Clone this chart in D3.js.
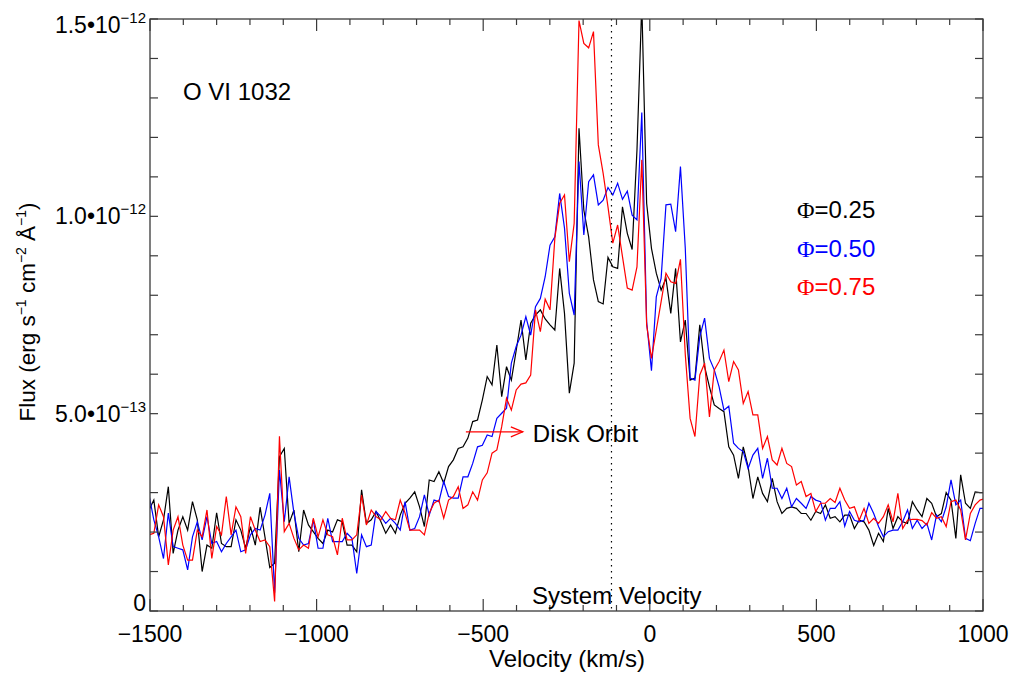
<!DOCTYPE html>
<html>
<head>
<meta charset="utf-8">
<script src="https://cdn.jsdelivr.net/npm/d3@7/dist/d3.min.js"></script>
<style>
  html, body { margin: 0; padding: 0; background: #fff; }
  svg { display: block; }
  text { font-family: "Liberation Sans", Arial, Helvetica, sans-serif; fill: #000; }
</style>
</head>
<body>
<svg id="chart" width="1012" height="673"></svg>
<script>
// Velocity grid (km/s)
const velocity = [
-1503,-1488.5,-1474,-1459.5,-1445,-1430.5,-1416,-1401.5,-1387,-1372.5,
-1358,-1343.5,-1329,-1314.5,-1300,-1285.5,-1271,-1256.5,-1242,-1227.5,
-1213,-1198.5,-1184,-1169.5,-1155,-1140.5,-1126,-1111.5,-1097,-1082.5,
-1068,-1053.5,-1039,-1024.5,-1010,-995.5,-981,-966.5,-952,-937.5,
-923,-908.5,-894,-879.5,-865,-850.5,-836,-821.5,-807,-792.5,
-778,-763.5,-749,-734.5,-720,-705.5,-691,-676.5,-662,-647.5,
-633,-618.5,-604,-589.5,-575,-560.5,-546,-531.5,-517,-502.5,
-488,-473.5,-459,-444.5,-430,-415.5,-401,-386.5,-372,-357.5,
-343,-328.5,-314,-299.5,-285,-270.5,-256,-241.5,-227,-212.5,
-198,-183.5,-169,-154.5,-140,-125.5,-111,-96.5,-82,-67.5,
-53,-38.5,-24,-9.5,5,19.5,34,48.5,63,77.5,
92,106.5,121,135.5,150,164.5,179,193.5,208,222.5,
237,251.5,266,280.5,295,309.5,324,338.5,353,367.5,
382,396.5,411,425.5,440,454.5,469,483.5,498,512.5,
527,541.5,556,570.5,585,599.5,614,628.5,643,657.5,
672,686.5,701,715.5,730,744.5,759,773.5,788,802.5,
817,831.5,846,860.5,875,889.5,904,918.5,933,947.5,
962,976.5,991,1005.5
];

// Flux in units of 1e-13 erg s^-1 cm^-2 A^-1
const fluxPhi025 = [
2.56,2.81,1.88,2.31,3.15,1.46,2.05,2.39,2.05,2.77,
2.31,1.00,1.67,1.59,2.49,1.71,1.63,1.63,2.31,2.05,
1.59,2.14,1.67,2.63,1.88,1.10,1.21,3.91,4.12,2.22,
2.56,1.50,2.56,2.18,2.01,1.84,1.71,2.05,2.00,2.31,
2.26,1.67,1.67,1.50,3.07,2.22,2.31,2.52,2.26,1.97,
2.18,1.97,2.43,2.73,2.86,3.02,2.64,2.14,3.32,3.28,
3.53,3.24,3.66,3.83,4.12,4.16,4.38,4.80,4.84,5.35,
5.94,5.73,6.74,5.43,6.19,5.85,6.60,7.37,6.36,7.29,
7.50,7.63,7.40,7.25,7.12,8.68,7.54,5.52,6.28,12.23,
10.16,9.48,8.39,7.84,7.78,8.96,8.72,8.68,10.24,9.57,
9.16,11.68,15.40,10.33,9.19,8.56,8.13,8.43,7.54,8.68,
6.82,7.37,5.85,5.90,7.25,6.19,5.68,5.22,5.13,5.05,
4.16,3.95,3.36,4.16,3.66,2.85,3.40,2.98,2.77,3.36,
2.77,2.47,2.60,2.64,2.60,2.47,2.47,2.30,2.52,2.47,
2.69,2.35,2.39,2.26,2.43,2.43,2.09,2.30,2.26,2.05,
1.66,1.97,1.76,2.60,2.09,2.39,2.26,2.22,2.77,2.56,
2.39,2.85,2.73,2.39,2.47,3.00,2.81,1.84,3.45,2.73,
2.60,3.02,3.00,3.00
];

const fluxPhi050 = [
2.94,2.31,1.88,1.33,2.48,1.63,1.59,1.55,1.04,1.88,
2.26,1.80,2.39,1.71,1.76,1.50,1.71,1.88,2.05,1.50,
1.55,1.93,2.09,2.05,2.43,2.98,0.46,3.57,2.26,3.40,
2.48,1.84,1.67,1.71,2.31,1.59,1.59,2.35,1.76,1.76,
1.76,1.97,1.84,0.95,1.93,1.63,1.67,2.52,2.39,2.22,
2.35,2.22,2.05,2.77,2.05,2.09,2.39,2.94,2.43,2.81,
2.77,3.28,2.90,2.86,2.86,3.40,3.40,3.74,4.16,4.20,
4.46,4.42,4.88,5.01,5.14,6.28,6.70,6.99,7.46,6.99,
7.71,7.92,8.47,9.27,9.48,10.58,9.70,8.05,7.50,11.39,
9.53,10.88,11.05,10.29,10.41,10.73,10.54,10.84,10.43,10.64,
10.03,9.91,12.63,7.33,6.09,7.96,8.43,10.29,10.31,9.61,
11.26,9.19,5.90,5.85,6.95,7.42,6.40,6.11,5.68,5.09,
5.19,4.25,4.12,4.04,3.61,3.95,4.12,3.36,3.87,3.11,
3.11,2.85,3.11,2.64,2.85,2.73,2.60,2.90,2.81,2.77,
2.30,2.60,2.60,2.77,2.15,2.52,2.30,2.26,2.30,2.73,
2.47,2.14,1.88,2.01,2.05,2.05,2.26,2.56,2.09,2.30,
2.09,2.22,1.80,2.43,2.26,2.64,3.32,2.69,2.81,1.84,
1.78,2.22,2.60,2.60
];

const fluxPhi075 = [
1.93,1.97,2.69,2.39,1.17,2.05,2.39,1.67,1.29,1.29,
2.05,1.88,2.56,1.33,2.14,1.93,2.90,1.93,2.64,2.39,
1.46,2.39,2.05,1.76,1.80,1.63,0.24,4.43,2.01,2.22,
1.84,1.55,1.67,1.59,2.35,1.88,2.31,1.93,1.88,1.42,
2.35,1.80,1.80,1.93,2.94,2.18,2.56,2.39,2.31,2.52,
2.35,2.31,2.81,2.48,2.05,2.05,2.05,1.93,2.48,2.73,
2.81,2.35,2.81,2.90,3.15,2.60,2.69,3.02,2.81,3.32,
3.50,4.00,4.08,4.67,5.39,5.09,5.60,5.75,5.78,5.98,
7.63,7.08,7.90,7.63,9.44,10.33,10.54,8.85,9.82,14.96,
14.38,14.27,14.68,11.81,11.09,10.24,9.32,9.78,8.98,8.18,
8.13,8.72,11.43,7.25,6.40,7.12,7.84,8.56,8.34,8.30,
8.91,6.50,4.88,4.42,5.98,6.28,4.92,6.11,6.32,6.61,
5.81,6.32,6.11,5.26,5.56,4.97,4.97,4.12,4.42,3.83,
3.70,4.12,3.74,3.66,3.19,3.28,2.90,2.98,2.52,2.73,
2.73,2.85,2.75,3.11,2.81,2.60,2.64,2.30,2.60,2.22,
2.35,2.22,2.39,2.69,2.26,2.98,2.09,2.30,2.32,2.32,
2.29,2.18,2.49,2.35,2.39,2.14,2.77,2.81,2.56,1.80,
2.47,2.69,2.81,2.85
];

const seriesNames = ["0.25", "0.50", "0.75"];
const seriesColors = ["#000000", "#0000ff", "#ff0000"];
const seriesData = [fluxPhi025, fluxPhi050, fluxPhi075];

const xTicks = [-1500, -1000, -500, 0, 500, 1000];
const xTickLabels = ["\u22121500", "\u22121000", "\u2212500", "0", "500", "1000"];
const yTicks = [0, 5, 10, 15];
const yTickMantissa = ["0", "5.0\u202210", "1.0\u202210", "1.5\u202210"];
const yTickExponent = ["", "\u221213", "\u221212", "\u221212"];

const systemVelocity = -115;

// ---------- layout ----------
const svg = d3.select("#chart");
const L = 150, R = 983, T = 19, B = 611;
const x = d3.scaleLinear().domain([-1500, 1000]).range([L, R]);
const y = d3.scaleLinear().domain([0, 15]).range([B, T]);

const axisColor = "#3a3a3a";

svg.append("defs").append("clipPath").attr("id", "plotclip")
  .append("rect").attr("x", L).attr("y", T).attr("width", R - L).attr("height", B - T);

// Data lines
const line = d3.line().x((d, i) => x(velocity[i])).y(d => y(d));
const gLines = svg.append("g").attr("clip-path", "url(#plotclip)");
seriesData.forEach((s, i) => {
  gLines.append("path")
    .datum(s)
    .attr("d", line)
    .attr("fill", "none")
    .attr("stroke", seriesColors[i])
    .attr("stroke-width", 1.2)
    .attr("stroke-linejoin", "miter");
});

// System velocity dotted line
svg.append("line")
  .attr("x1", x(systemVelocity)).attr("x2", x(systemVelocity))
  .attr("y1", y(15)).attr("y2", y(0))
  .attr("stroke", "#000").attr("stroke-width", 1.2)
  .attr("stroke-dasharray", "1.5,4.5");

// Frame
svg.append("rect").attr("x", L).attr("y", T).attr("width", R - L).attr("height", B - T)
  .attr("fill", "none").attr("stroke", axisColor).attr("stroke-width", 1.3);

// Ticks
const xMinor = d3.range(-1500, 1001, 100);
const gT = svg.append("g").attr("stroke", axisColor).attr("stroke-width", 1.2);
xMinor.forEach(v => {
  const major = v % 500 === 0;
  const len = major ? 12 : 6;
  gT.append("line").attr("x1", x(v)).attr("x2", x(v)).attr("y1", B).attr("y2", B - len);
  gT.append("line").attr("x1", x(v)).attr("x2", x(v)).attr("y1", T).attr("y2", T + len);
});
const yMinor = d3.range(0, 15.01, 1);
yMinor.forEach(v => {
  const len = 8;
  gT.append("line").attr("x1", L).attr("x2", L + len).attr("y1", y(v)).attr("y2", y(v));
  gT.append("line").attr("x1", R).attr("x2", R - len).attr("y1", y(v)).attr("y2", y(v));
});

// X tick labels
xTicks.forEach((v, i) => {
  svg.append("text").attr("x", x(v)).attr("y", 642)
    .attr("text-anchor", "middle").attr("font-size", 23)
    .text(xTickLabels[i]);
});

// Y tick labels
yTicks.forEach((v, i) => {
  let by = y(v) + 8;
  if (i === 0) by = y(v);
  if (i === yTicks.length - 1) by = y(v) + 14;
  const t = svg.append("text").attr("x", 146).attr("y", by)
    .attr("text-anchor", "end").attr("font-size", 23);
  t.append("tspan").text(yTickMantissa[i]);
  if (yTickExponent[i]) {
    t.append("tspan").attr("dy", -10).attr("font-size", 15).text(yTickExponent[i]);
  }
});

// Axis titles
svg.append("text").attr("x", 567).attr("y", 667).attr("text-anchor", "middle")
  .attr("font-size", 24).text("Velocity (km/s)");

const yl = svg.append("text")
  .attr("transform", "translate(35,312) rotate(-90)")
  .attr("text-anchor", "middle").attr("font-size", 22.5);
yl.append("tspan").text("Flux (erg s");
yl.append("tspan").attr("dy", -9).attr("font-size", 14).text("\u22121");
yl.append("tspan").attr("dy", 9).text(" cm");
yl.append("tspan").attr("dy", -9).attr("font-size", 14).text("\u22122");
yl.append("tspan").attr("dy", 9).text(" \u00c5");
yl.append("tspan").attr("dy", -9).attr("font-size", 14).text("\u22121");
yl.append("tspan").attr("dy", 9).text(")");

// Line label
svg.append("text").attr("x", 183).attr("y", 100).attr("font-size", 24).text("O VI 1032");

// Legend
seriesNames.forEach((n, i) => {
  const t = svg.append("text").attr("x", 797).attr("y", 218 + i * 38.5)
    .attr("font-size", 24);
  t.append("tspan").attr("fill", seriesColors[i])
    .style("font-family", "'Liberation Serif', 'DejaVu Serif', serif").text("\u03a6");
  t.append("tspan").attr("fill", seriesColors[i]).text("=" + n);
});

// Disk Orbit arrow + label
const arrowY = 4.54, arrowX0 = -552, arrowX1 = -381;
const ga = svg.append("g").attr("stroke", "#ff0000").attr("stroke-width", 1.2).attr("fill", "none");
ga.append("line").attr("x1", x(arrowX0)).attr("x2", x(arrowX1)).attr("y1", y(arrowY)).attr("y2", y(arrowY));
ga.append("path").attr("d",
  `M${x(arrowX1) - 12},${y(arrowY) - 5} L${x(arrowX1)},${y(arrowY)} L${x(arrowX1) - 12},${y(arrowY) + 5}`);
svg.append("text").attr("x", x(-351)).attr("y", y(arrowY) + 10).attr("font-size", 24).text("Disk Orbit");

svg.append("text").attr("x", x(-99)).attr("y", 604).attr("text-anchor", "middle")
  .attr("font-size", 24).text("System Velocity");
</script>
</body>
</html>
